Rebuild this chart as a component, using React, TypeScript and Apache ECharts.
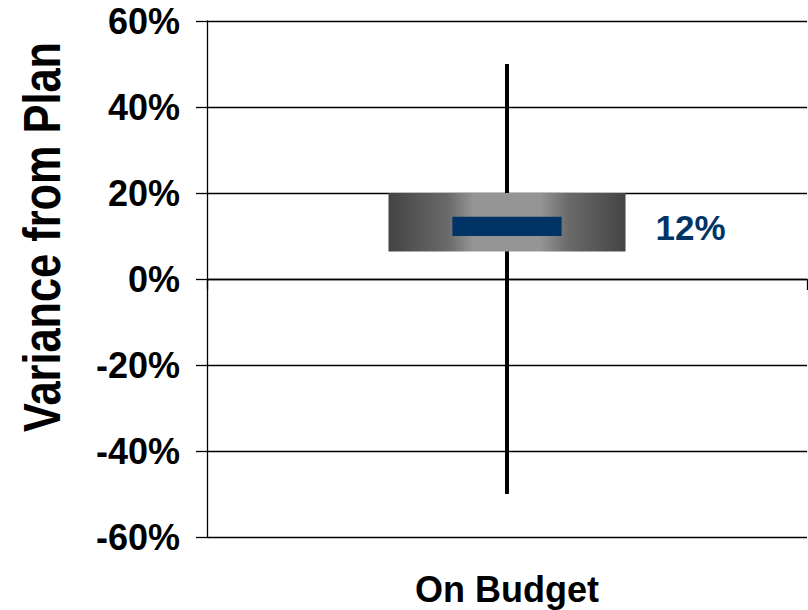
import React, { useEffect, useRef } from "react";
import * as echarts from "echarts";

const categories = ["On Budget"];
const lowValues = [-50];
const q1Values = [6.4];
const medianValues = [12];
const q3Values = [20];
const highValues = [50];
const medianMarkLow = [10];
const medianMarkHigh = [14.5];
const yMin = -60;
const yMax = 60;
const yInterval = 20;
const yTitle = "Variance from Plan";

const FONT = "'Liberation Sans', Arial, Helvetica, sans-serif";
const NAVY = "#003366";

export default function App() {
  const ref = useRef<HTMLDivElement>(null);
  useEffect(() => {
    document.body.style.margin = "0";
    const chart = echarts.init(ref.current!, null, { renderer: "svg" });
    const data = categories.map((_, i) => [
      i,
      lowValues[i],
      q1Values[i],
      medianValues[i],
      q3Values[i],
      highValues[i],
      medianMarkLow[i],
      medianMarkHigh[i],
    ]);
    chart.setOption({
      animation: false,
      grid: { left: 207, right: 1, top: 21, bottom: 73, containLabel: false },
      xAxis: [
        {
          type: "category",
          data: categories,
          position: "bottom",
          axisLine: { show: false, onZero: false },
          axisTick: { show: false },
          splitLine: { show: false },
          axisLabel: {
            margin: 34,
            color: "#000",
            fontSize: 36,
            fontWeight: "bold",
            fontFamily: FONT,
          },
        },
        {
          type: "category",
          data: categories,
          position: "bottom",
          axisLine: { show: true, onZero: true, lineStyle: { color: "#000", width: 1.3 } },
          axisTick: { show: true, length: 11, lineStyle: { color: "#000", width: 1.3 } },
          axisLabel: { show: false },
          splitLine: { show: false },
        },
      ],
      yAxis: {
        type: "value",
        min: yMin,
        max: yMax,
        interval: yInterval,
        axisLine: { show: true, lineStyle: { color: "#000", width: 1.3 } },
        axisTick: { show: true, length: 11, lineStyle: { color: "#000", width: 1.3 } },
        splitLine: { show: true, lineStyle: { color: "#000", width: 1.3 } },
        axisLabel: {
          formatter: "{value}%",
          margin: 27,
          color: "#000",
          fontSize: 36,
          fontWeight: "bold",
          fontFamily: FONT,
        },
      },
      graphic: [
        {
          type: "text",
          x: 42,
          y: 237,
          rotation: Math.PI / 2,
          scaleX: 0.85,
          style: {
            text: yTitle,
            fontSize: 51,
            fontWeight: "bold",
            fontFamily: FONT,
            fill: "#000",
            align: "center",
            verticalAlign: "middle",
          },
        },
      ],
      series: [
        {
          type: "custom",
          xAxisIndex: 0,
          data,
          renderItem: (params: any, api: any) => {
            const x = api.value(0);
            const low = api.coord([x, api.value(1)]);
            const q1 = api.coord([x, api.value(2)]);
            const med = api.coord([x, api.value(3)]);
            const q3 = api.coord([x, api.value(4)]);
            const high = api.coord([x, api.value(5)]);
            const mLo = api.coord([x, api.value(6)]);
            const mHi = api.coord([x, api.value(7)]);
            const band = api.size([1, 0])[0];
            const cx = med[0];
            const boxW = band * 0.395;
            const medW = band * 0.182;
            return {
              type: "group",
              children: [
                {
                  type: "line",
                  shape: { x1: cx, y1: high[1], x2: cx, y2: low[1] },
                  style: { stroke: "#000", lineWidth: 4 },
                },
                {
                  type: "rect",
                  shape: { x: cx - boxW / 2, y: q3[1], width: boxW, height: q1[1] - q3[1] },
                  style: {
                    fill: new echarts.graphic.LinearGradient(0, 0, 1, 0, [
                      { offset: 0, color: "#444444" },
                      { offset: 0.25, color: "#6a6a6a" },
                      { offset: 0.36, color: "#959595" },
                      { offset: 0.64, color: "#959595" },
                      { offset: 0.76, color: "#6a6a6a" },
                      { offset: 1, color: "#444444" },
                    ]),
                  },
                },
                {
                  type: "rect",
                  shape: { x: cx - medW / 2, y: mHi[1], width: medW, height: mLo[1] - mHi[1] },
                  style: { fill: NAVY },
                },
                {
                  type: "text",
                  style: {
                    text: api.value(3) + "%",
                    x: cx + boxW / 2 + 30,
                    y: med[1],
                    fill: NAVY,
                    fontSize: 35,
                    fontWeight: "bold",
                    fontFamily: FONT,
                    align: "left",
                    verticalAlign: "middle",
                  },
                },
              ],
            };
          },
        },
      ],
    });
    return () => chart.dispose();
  }, []);
  return <div ref={ref} style={{ width: 808, height: 610 }} />;
}
